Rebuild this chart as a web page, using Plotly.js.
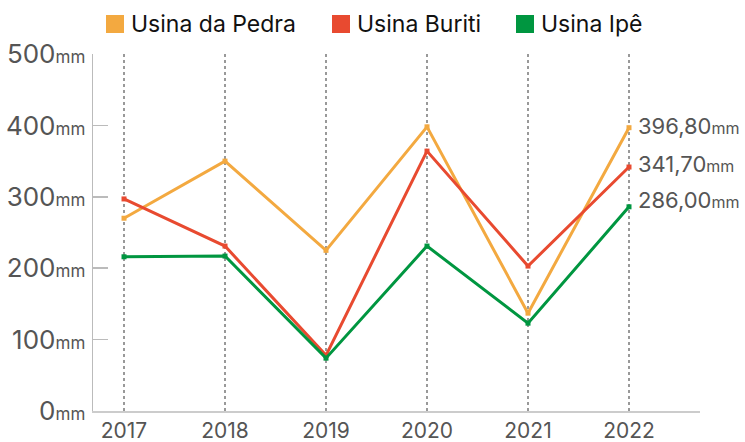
<!DOCTYPE html>
<html><head><meta charset="utf-8">
<script src="https://cdn.plot.ly/plotly-3.0.1.min.js"></script>
<style>html,body{margin:0;padding:0;background:#fff}#chart{width:745px;height:442px}</style>
</head><body><div id="chart"></div>
<script>
const years = [2017, 2018, 2019, 2020, 2021, 2022];
const pedra = [270, 350, 225, 398, 137, 396.8];
const buriti = [297, 231, 78, 364, 203, 341.7];
const ipe = [216, 217, 74, 231, 123, 286];
const seriesNames = ['Usina da Pedra', 'Usina Buriti', 'Usina Ipê'];
const yTicks = [0, 100, 200, 300, 400, 500];
const endLabels = ['396,80', '341,70', '286,00'];

const colors = ['#F3A940', '#E84A30', '#009640'];
const allData = [pedra, buriti, ipe];
const FONT = 'Inter, "Noto Sans", sans-serif';

// plot area geometry (px) used to place the custom legend in paper coords
const L = 93, R = 700, T = 54, B = 411;
const px2x = p => (p - L) / (R - L);
const py2y = p => (B - p) / (B - T);
const legendSquareX = [106, 332, 516];

const traces = allData.map((d, i) => ({
  x: years, y: d, name: seriesNames[i], type: 'scatter', mode: 'lines+markers',
  line: {color: colors[i], width: 3},
  marker: {color: colors[i], size: 5, symbol: 'square'},
  showlegend: false, hoverinfo: 'skip'
}));

const annotations = allData.map((d, i) => ({
  x: years[years.length - 1], y: d[d.length - 1], xref: 'x', yref: 'y',
  text: endLabels[i] + '<span style="font-size:16px">mm</span>',
  showarrow: false, xanchor: 'left', yanchor: 'middle', xshift: 7, yshift: [2, 3, 7][i],
  font: {family: FONT, size: 22, color: '#555'}
}));
const shapes = [];
seriesNames.forEach((n, i) => {
  const sx = legendSquareX[i];
  shapes.push({type: 'rect', xref: 'paper', yref: 'paper',
    x0: px2x(sx), x1: px2x(sx + 18), y0: py2y(33), y1: py2y(15),
    fillcolor: colors[i], line: {width: 0}});
  annotations.push({xref: 'paper', yref: 'paper', x: px2x(sx + 23), y: py2y(24),
    text: n, showarrow: false, xanchor: 'left', yanchor: 'middle',
    font: {family: FONT, size: 23, color: '#111'}});
});

const layout = {
  width: 745, height: 442,
  margin: {l: L, r: 745 - R, t: T, b: 442 - B},
  paper_bgcolor: '#fff', plot_bgcolor: '#fff',
  showlegend: false,
  xaxis: {
    range: [2016.693, 2022.703], tickvals: years, ticktext: years.map(String),
    showgrid: true, gridcolor: '#999', griddash: 'dot', gridwidth: 2,
    showline: true, linecolor: '#ccc', linewidth: 2, zeroline: false,
    ticks: '', tickfont: {family: FONT, size: 21, color: '#555'}, ticklabelstandoff: 0
  },
  yaxis: {
    range: [0, 500], tickvals: yTicks,
    ticktext: yTicks.map(v => v + '<span style="font-size:17px">mm</span>'),
    showgrid: false, zeroline: false, showline: true, linecolor: '#bbb', linewidth: 1.5,
    ticks: 'inside', ticklen: 15, tickcolor: '#bbb', tickwidth: 1.5,
    tickfont: {family: FONT, size: 26, color: '#555'}, ticklabelstandoff: 1
  },
  shapes: shapes,
  annotations: annotations
};
Plotly.newPlot('chart', traces, layout, {displayModeBar: false, staticPlot: true});
</script></body></html>
